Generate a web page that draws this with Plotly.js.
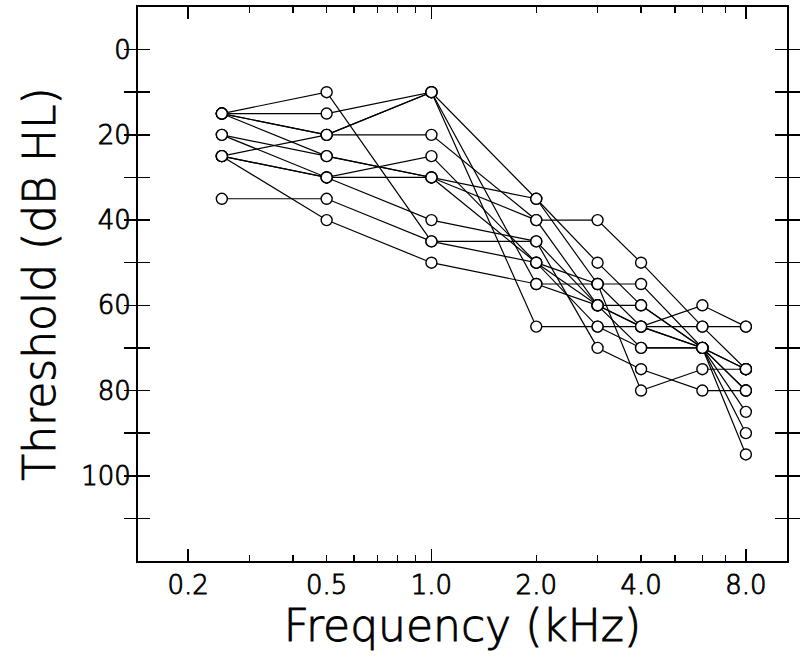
<!DOCTYPE html>
<html>
<head>
<meta charset="utf-8">
<script src="https://cdn.plot.ly/plotly-3.0.1.min.js"></script>
<style>
  html, body { margin: 0; padding: 0; background: #fff; }
  #chart { width: 800px; height: 664px; }
  /* thicken the extra-light face a little, closer to the plotter font */
  #chart svg text { stroke: #000; stroke-width: 0.9px; }
</style>
</head>
<body>
<div id="chart"></div>
<script>
// test frequencies (kHz)
const freqs = [0.25, 0.5, 1, 2, 3, 4, 6, 8];

// thresholds (dB HL) per listener
const s1 = [15, 15, 10, 65, 65, 65, 60, 65];
const s2 = [25, 30, 40, 45, 60, 65, 65, 65];
const s3 = [25, 20, 20, 40, 40, 50, 65, 75];
const s4 = [25, 40, 50, 55, 55, 55, 70, 75];
const s5 = [15, 20, 10, 35, 50, 60, 70, 80];
const s6 = [15, 25, 30, 40, 60, 70, 70, 85];
const s7 = [15, 10, 45, 50, 65, 70, 70, 90];
const s8 = [20, 30, 25, 50, 55, 65, 70, 95];
const s9 = [20, 25, 30, 35, 55, 80, 75, 75];
const s10 = [35, 35, 45, 45, 70, 75, 80, 80];
const s11 = [15, 20, 10, 55, 60, 60, 70, 80];
const s12 = [25, 30, 30, 50, 60, 65, 70, 75];

const xTickVals = [0.2, 0.3, 0.4, 0.5, 0.6, 0.7, 0.8, 0.9, 1, 2, 3, 4, 5, 6, 7, 8];
const xTickText = ["0.2", "", "", "0.5", "", "", "", "", "1.0", "2.0", "", "4.0", "", "", "", "8.0"];
const xLongTicks = [0.2, 1, 8];

const yTickVals = [0, 10, 20, 30, 40, 50, 60, 70, 80, 90, 100, 110];
const yTickText = ["0", "", "20", "", "40", "", "60", "", "80", "", "100", ""];

const listeners = [s1, s2, s3, s4, s5, s6, s7, s8, s9, s10, s11, s12];

const traces = [];

// lines first so every circle sits on top
listeners.forEach((vals) => {
  traces.push({
    type: "scatter",
    mode: "lines",
    x: freqs,
    y: vals,
    line: { color: "#000", width: 1.2 },
    hoverinfo: "skip",
    showlegend: false
  });
});

listeners.forEach((vals) => {
  traces.push({
    type: "scatter",
    mode: "markers",
    x: freqs,
    y: vals,
    marker: {
      symbol: "circle",
      size: 11,
      color: "#fff",
      line: { color: "#000", width: 1.4 }
    },
    showlegend: false
  });
});

// empty trace so the long-tick overlay axis gets drawn
traces.push({ type: "scatter", x: [], y: [], xaxis: "x2", showlegend: false, hoverinfo: "skip" });

const xRange = [Math.log10(0.1436), Math.log10(10.5)];
const font = "DejaVu Sans, sans-serif";
const tickFont = { family: font, size: 26, color: "#000", weight: 200 };
const titleFont = { family: font, size: 44, color: "#000", weight: 200 };

const layout = {
  width: 800,
  height: 664,
  margin: { l: 138, r: 13, t: 7, b: 103 },
  paper_bgcolor: "#fff",
  plot_bgcolor: "#fff",
  showlegend: false,
  font: { family: font, color: "#000" },
  xaxis: {
    type: "log",
    range: xRange,
    tickmode: "array",
    tickvals: xTickVals,
    ticktext: xTickText,
    ticks: "inside",
    ticklen: 6,
    tickwidth: 1.5,
    tickcolor: "#000",
    showline: true,
    linewidth: 2,
    linecolor: "#000",
    mirror: "allticks",
    showgrid: false,
    zeroline: false,
    tickfont: tickFont,
    title: {
      text: "Frequency (kHz)",
      font: titleFont,
      standoff: 4
    }
  },
  xaxis2: {
    type: "log",
    range: xRange,
    overlaying: "x",
    anchor: "y",
    side: "bottom",
    tickmode: "array",
    tickvals: xLongTicks,
    showticklabels: false,
    ticks: "inside",
    ticklen: 12,
    tickwidth: 1.5,
    tickcolor: "#000",
    showline: false,
    mirror: "allticks",
    showgrid: false,
    zeroline: false
  },
  yaxis: {
    range: [120, -10],
    tickmode: "array",
    tickvals: yTickVals,
    ticktext: yTickText,
    ticks: "inside",
    ticklen: 12,
    tickwidth: 1.5,
    tickcolor: "#000",
    showline: true,
    linewidth: 2,
    linecolor: "#000",
    mirror: "allticks",
    showgrid: false,
    zeroline: false,
    tickfont: tickFont,
    title: {
      text: "Threshold (dB HL)",
      font: titleFont,
      standoff: 12
    }
  }
};

Plotly.newPlot("chart", traces, layout, { staticPlot: true, displaylogo: false });
</script>
</body>
</html>
